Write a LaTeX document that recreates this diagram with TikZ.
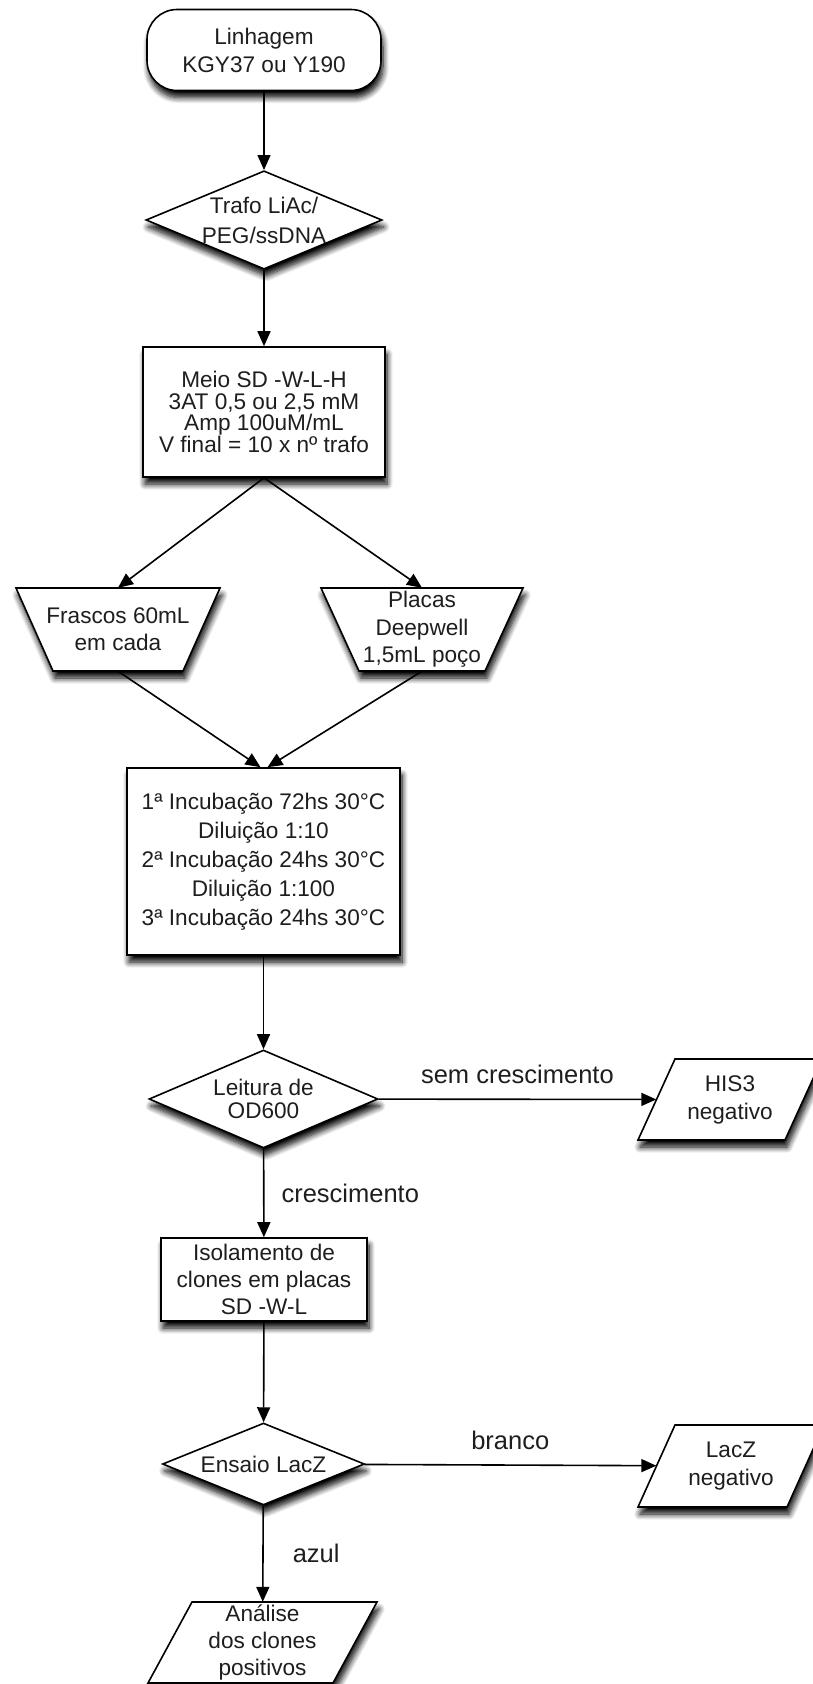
\documentclass[tikz,border=0pt]{standalone}
\usepackage{fontspec}
\setmainfont{Liberation Sans}
\usepackage{tikz}
\usetikzlibrary{positioning,arrows.meta,calc,shapes.geometric,shadows.blur}
\definecolor{ink}{HTML}{1E1E1E}
\tikzset{
  outline/.style={draw=black, line width=1.6pt, fill=white,
    blur shadow={shadow xshift=2pt, shadow yshift=-7pt, shadow blur radius=6pt, shadow blur steps=8, shadow opacity=100}},
  txt/.style={text=ink, align=center, font=\fontsize{22.6}{27}\selectfont, inner sep=2pt},
  base/.style={outline, txt},
  term/.style={base, rectangle, rounded corners=30pt},
  proc/.style={base, rectangle},
  decis/.style={base, diamond, aspect=2.4, inner sep=0pt},
  flow/.style={line width=1.6pt, draw=black, fill=black, -{Triangle[length=15pt,width=13pt]}},
  lbl/.style={font=\fontsize{25.5}{28}\selectfont, text=ink, inner sep=0pt}
}
% slanted box: name, centre, width, height, top-left inset, bottom-left inset, line skip, text
\newcommand{\slantbox}[8]{%
  \begin{scope}
    \path[outline] ($(#2)+({-#3/2+#5},{-#4/2})$) -- ($(#2)+({#3/2},{-#4/2})$)
      -- ($(#2)+({#3/2-#5-#6},{#4/2})$) -- ($(#2)+({-#3/2+#6},{#4/2})$) -- cycle;
  \end{scope}
  \node[txt, inner sep=0pt, minimum width={(#3-#5-#6)*1pt}, minimum height=#4pt,
    font=\fontsize{22.6}{#7}\selectfont] (#1) at (#2) {#8};
}

\begin{document}
\begin{tikzpicture}[x=1pt,y=-1pt]
  \useasboundingbox (0,0) rectangle (812,1684);
  % main column
  \node[term, minimum width=234pt, minimum height=81pt, font=\fontsize{22.6}{28}\selectfont] (start) at (264,50) {Linhagem\\KGY37 ou Y190};
  \node[decis, minimum width=230pt, minimum height=95pt, font=\fontsize{22.6}{30}\selectfont] (trafo) at (264,220) {Trafo LiAc/\\PEG/ssDNA};
  \node[proc, minimum width=242pt, minimum height=130pt, font=\fontsize{22.6}{21.7}\selectfont] (meio) at (264,412) {Meio SD -W-L-H\\3AT 0,5 ou 2,5 mM\\Amp 100uM/mL\\V final = 10 x nº trafo};
  % two ways
  \slantbox{frasco}{118,629.5}{204}{83}{0}{37}{27}{Frascos 60mL\\em cada}
  \slantbox{placas}{422,629.5}{202}{83}{0}{38}{27.4}{Placas\\Deepwell\\1,5mL poço}
  \node[proc, minimum width=273pt, minimum height=187pt, font=\fontsize{22.6}{29}\selectfont] (incub) at (263.5,861.5) {1ª Incubação 72hs 30°C\\Diluição 1:10\\2ª Incubação 24hs 30°C\\Diluição 1:100\\3ª Incubação 24hs 30°C};
  % tests
  \node[decis, minimum width=229pt, minimum height=98pt, font=\fontsize{22.6}{23}\selectfont] (leitura) at (263.5,1099) {Leitura de\\OD600};
  \slantbox{his}{730,1099.5}{184}{81}{37}{0}{28}{HIS3\\negativo}
  \node[proc, minimum width=206pt, minimum height=83pt] (isol) at (264,1279.5) {Isolamento de\\clones em placas\\SD -W-L};
  \node[decis, minimum width=202pt, minimum height=82pt] (ensaio) at (263.5,1464) {Ensaio LacZ};
  \slantbox{lacz}{731,1466}{186}{82}{37}{0}{28}{LacZ\\negativo}
  \slantbox{analise}{262.5,1642.5}{229}{81}{44}{0}{26.7}{Análise\\dos clones\\positivos}
  % arrows
  \draw[flow] (start) -- (trafo);
  \draw[flow] (trafo) -- (meio);
  \draw[flow] (meio.south) -- (frasco.north);
  \draw[flow] (meio.south) -- (placas.north);
  \draw[flow] (frasco.south) -- ([xshift=-3pt]incub.north);
  \draw[flow] (placas.south) -- ([xshift=4pt]incub.north);
  \draw[flow] (incub) -- (leitura);
  \draw[flow] (leitura) -- node[lbl, above=15pt] {sem crescimento} (his);
  \draw[flow] (leitura) -- node[lbl, right=17pt] {crescimento} (isol);
  \draw[flow] (isol) -- (ensaio);
  \draw[flow] (ensaio) -- node[lbl, above=15pt] {branco} (lacz);
  \draw[flow] (ensaio) -- node[lbl, right=29pt] {azul} (analise);
\end{tikzpicture}
\end{document}
